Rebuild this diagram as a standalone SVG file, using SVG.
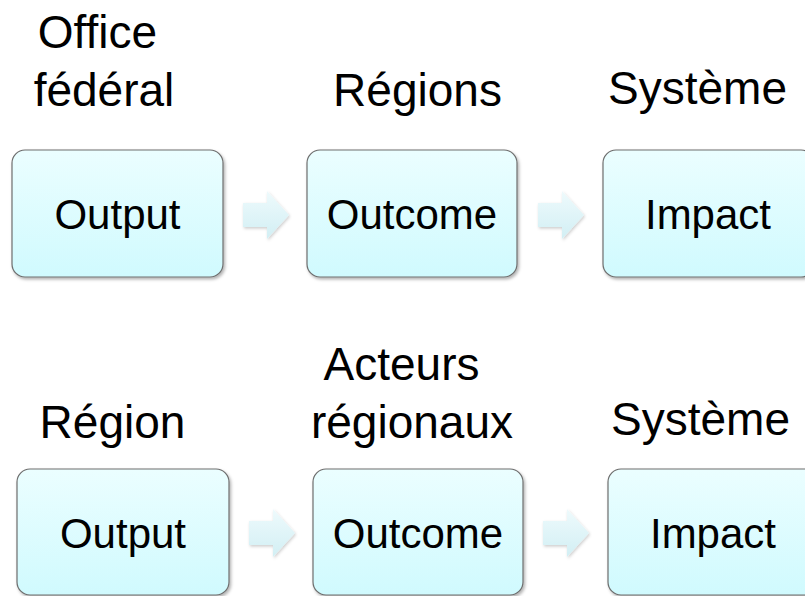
<svg xmlns="http://www.w3.org/2000/svg" width="805" height="596" viewBox="0 0 805 596">
<style>
text{font-family:"Liberation Sans",Arial,sans-serif;fill:#000}
.lbl{font-size:46px;text-anchor:middle}
.btx{font-size:42px;text-anchor:middle}
.box{fill:url(#bg);stroke:#6e6e6e;stroke-width:1.2;filter:url(#sh)}
.arr{fill:url(#ag);filter:url(#sh2)}
</style>
<defs>
<linearGradient id="bg" x1="0" y1="0" x2="0" y2="1">
<stop offset="0" stop-color="#ebfeff"/>
<stop offset="1" stop-color="#d0fafe"/>
</linearGradient>
<linearGradient id="ag" x1="0" y1="0" x2="0" y2="1">
<stop offset="0" stop-color="#eefafc"/>
<stop offset="1" stop-color="#d2eff4"/>
</linearGradient>
<filter id="sh" x="-10%" y="-10%" width="125%" height="125%">
<feDropShadow dx="1.5" dy="2" stdDeviation="1.5" flood-color="#000" flood-opacity="0.3"/>
</filter>
<filter id="sh2" x="-20%" y="-20%" width="150%" height="150%">
<feDropShadow dx="1" dy="1.5" stdDeviation="1.5" flood-color="#000" flood-opacity="0.2"/>
</filter>
<path id="ar" d="M0,-12 H24 V-24 L46,0 L24,24 V12 H0 Z"/>
</defs>

<g id="labels-row1">
<text class="lbl" x="97.5" y="48">Office</text>
<text class="lbl" x="104" y="106">fédéral</text>
<text class="lbl" x="417.5" y="106">Régions</text>
<text class="lbl" x="697.5" y="104">Système</text>
</g>
<g id="labels-row2">
<text class="lbl" x="112.5" y="438">Région</text>
<text class="lbl" x="401.5" y="380">Acteurs</text>
<text class="lbl" x="412" y="438">régionaux</text>
<text class="lbl" x="700.5" y="435">Système</text>
</g>

<g id="connectors">
<use href="#ar" class="arr" x="243" y="215"/>
<use href="#ar" class="arr" x="538" y="215"/>
<use href="#ar" class="arr" x="249" y="533"/>
<use href="#ar" class="arr" x="543" y="533"/>
</g>

<g id="r1-output"><rect class="box" x="12" y="150" width="211" height="127" rx="13"/><text class="btx" x="117.5" y="229">Output</text></g>
<g id="r1-outcome"><rect class="box" x="307" y="150" width="210" height="127" rx="13"/><text class="btx" x="412" y="229">Outcome</text></g>
<g id="r1-impact"><rect class="box" x="603" y="150" width="211" height="127" rx="13"/><text class="btx" x="708" y="229">Impact</text></g>

<g id="r2-output"><rect class="box" x="17" y="469" width="212" height="126" rx="13"/><text class="btx" x="123" y="548">Output</text></g>
<g id="r2-outcome"><rect class="box" x="313" y="469" width="210" height="126" rx="13"/><text class="btx" x="418" y="548">Outcome</text></g>
<g id="r2-impact"><rect class="box" x="608" y="469" width="212" height="126" rx="13"/><text class="btx" x="713" y="548">Impact</text></g>
</svg>
